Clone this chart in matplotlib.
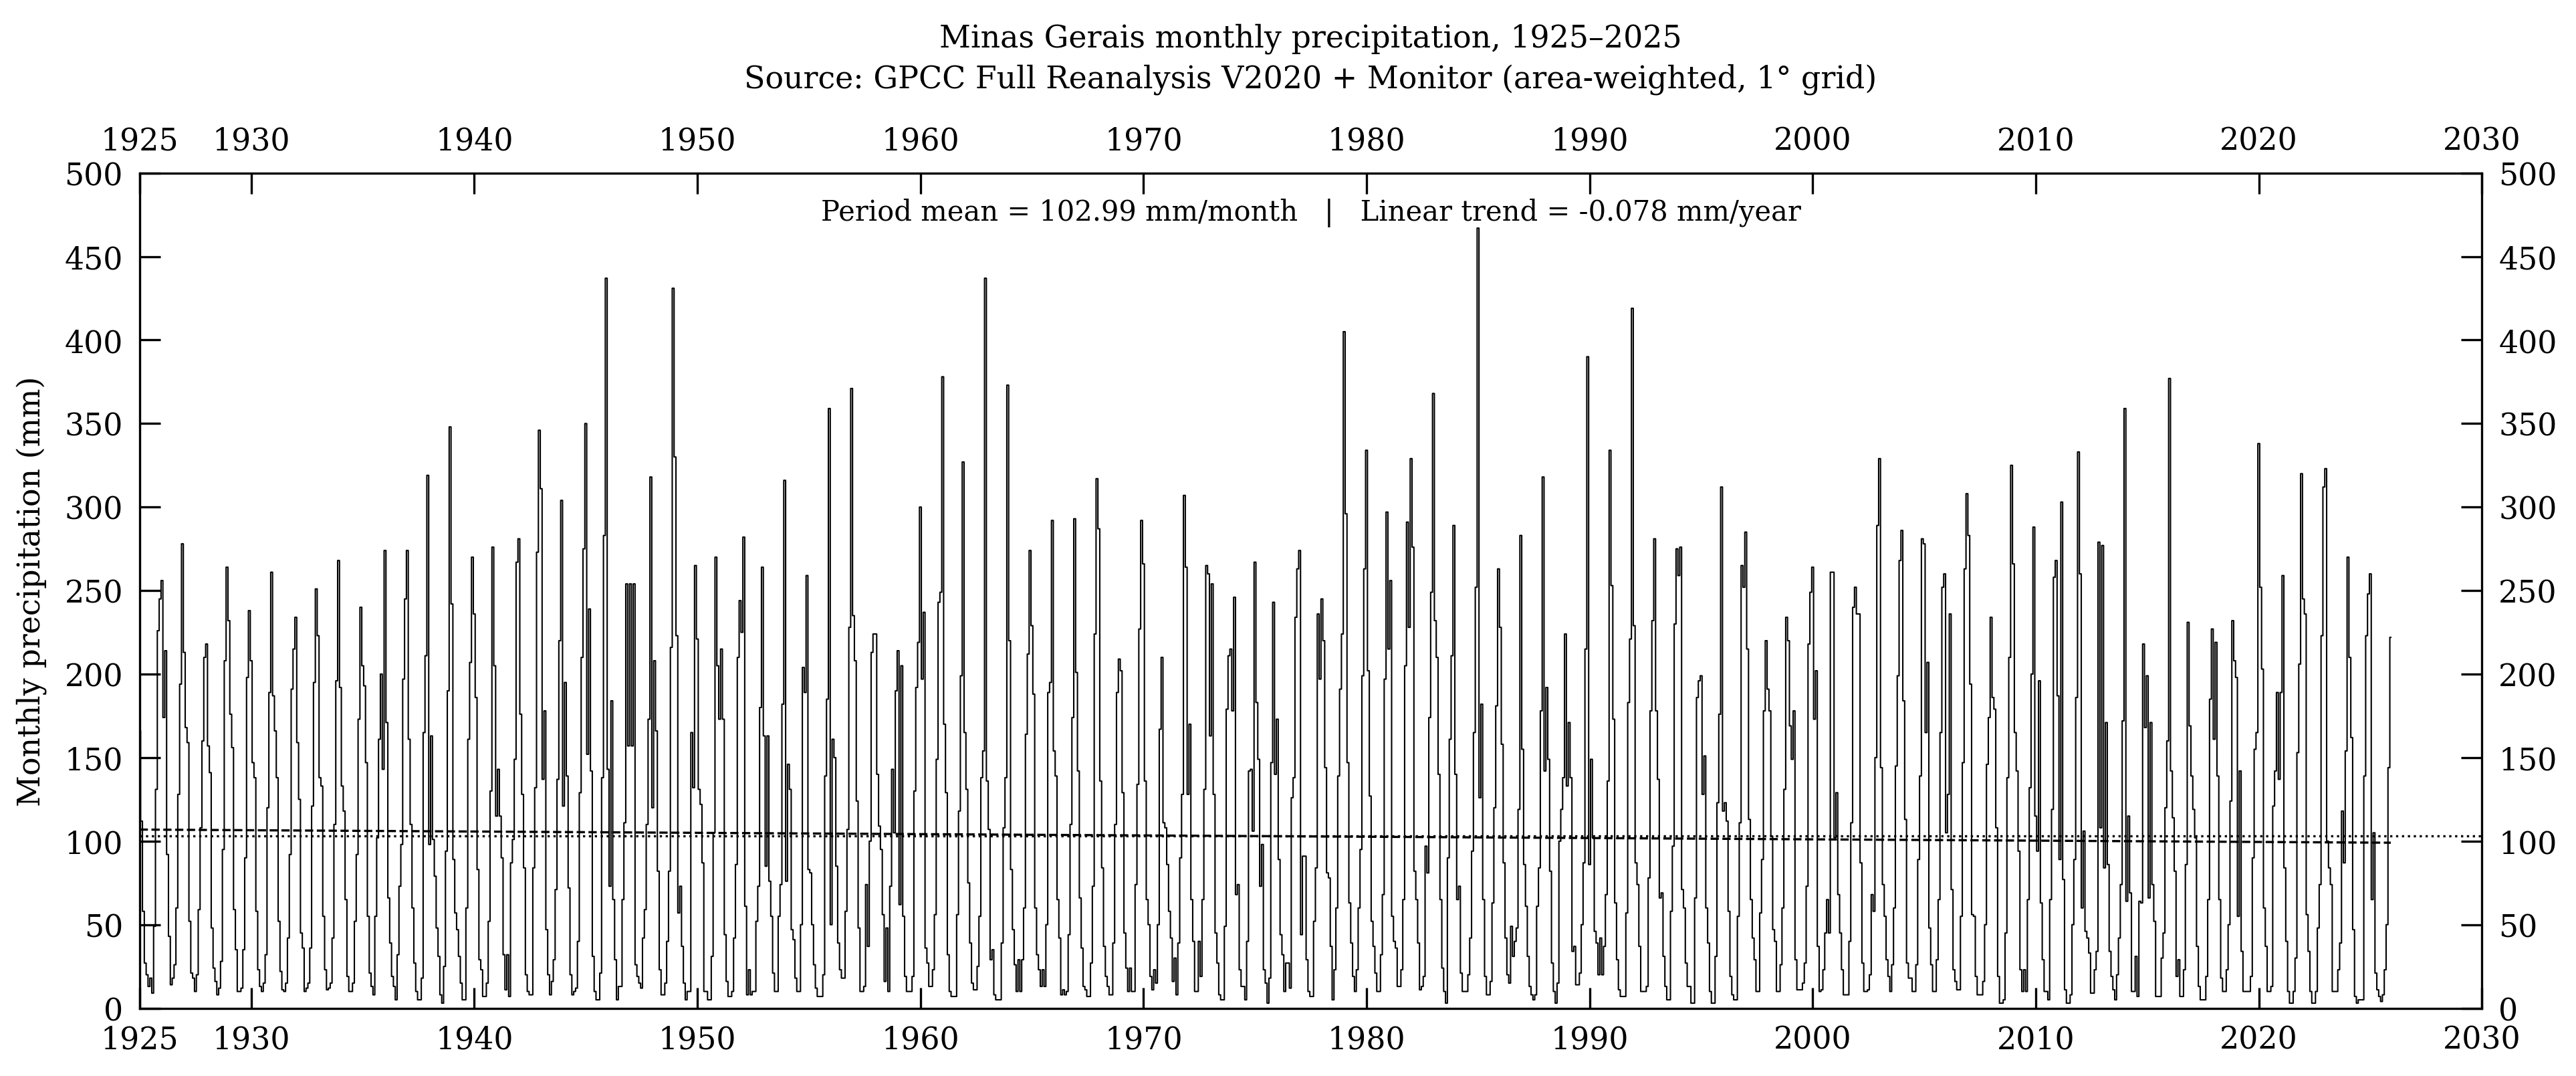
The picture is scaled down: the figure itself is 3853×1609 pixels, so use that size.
import numpy as np
import matplotlib
matplotlib.use("Agg")
import matplotlib.pyplot as plt

# ---------------- data (mm/month, Jan..Dec per row) ----------------
start_year = 1925

precip_1920s = [
    166, 112, 58, 27, 20, 13, 18, 9, 49, 131, 226, 245,     # 1925
    256, 174, 214, 92, 43, 14, 18, 26, 60, 128, 194, 278,   # 1926
    213, 168, 159, 52, 21, 18, 10, 20, 59, 108, 160, 210,   # 1927
    218, 157, 141, 48, 24, 16, 8, 12, 28, 95, 208, 264,     # 1928
    232, 176, 156, 59, 35, 10, 10, 12, 35, 90, 198, 238,    # 1929
]
precip_1930s = [
    208, 147, 138, 58, 23, 13, 10, 15, 32, 120, 189, 261,   # 1930
    187, 166, 138, 52, 22, 11, 10, 15, 42, 92, 191, 215,    # 1931
    234, 159, 125, 45, 36, 10, 12, 15, 36, 121, 195, 251,   # 1932
    223, 138, 133, 55, 23, 11, 12, 15, 42, 110, 196, 268,   # 1933
    192, 133, 118, 65, 19, 10, 10, 15, 52, 92, 173, 240,    # 1934
    205, 193, 147, 55, 21, 13, 8, 55, 102, 161, 200, 143,   # 1935
    274, 171, 66, 39, 19, 13, 5, 32, 73, 98, 197, 245,      # 1936
    274, 161, 110, 60, 27, 10, 5, 5, 18, 165, 211, 319,     # 1937
    98, 163, 101, 79, 48, 31, 8, 3, 25, 94, 190, 348,       # 1938
    242, 89, 57, 47, 31, 15, 5, 5, 60, 161, 207, 270,       # 1939
]
precip_1940s = [
    236, 186, 83, 29, 23, 7, 7, 15, 52, 130, 276, 205,      # 1940
    115, 143, 115, 90, 32, 11, 32, 7, 87, 101, 149, 267,    # 1941
    281, 176, 128, 84, 20, 10, 8, 8, 84, 132, 273, 346,     # 1942
    311, 137, 178, 47, 20, 8, 16, 29, 71, 137, 220, 304,    # 1943
    121, 195, 139, 72, 20, 8, 10, 12, 40, 129, 210, 275,    # 1944
    350, 152, 239, 142, 31, 10, 5, 5, 21, 138, 283, 437,    # 1945
    143, 73, 184, 65, 29, 5, 13, 13, 65, 111, 254, 157,     # 1946
    254, 157, 254, 26, 19, 15, 12, 42, 59, 110, 173, 318,   # 1947
    120, 208, 166, 82, 23, 8, 8, 15, 40, 82, 216, 431,      # 1948
    330, 223, 57, 73, 37, 15, 5, 10, 10, 165, 132, 265,     # 1949
]
precip_1950s = [
    221, 131, 122, 87, 10, 10, 5, 5, 31, 105, 270, 205,     # 1950
    173, 215, 173, 44, 16, 7, 7, 10, 42, 86, 210, 244,      # 1951
    225, 282, 61, 8, 23, 8, 10, 10, 52, 73, 180, 264,       # 1952
    163, 85, 163, 76, 55, 21, 10, 10, 55, 74, 182, 316,     # 1953
    76, 146, 131, 47, 41, 18, 10, 10, 50, 204, 189, 259,    # 1954
    83, 81, 50, 26, 12, 7, 7, 7, 20, 139, 185, 359,         # 1955
    50, 161, 150, 85, 39, 23, 18, 18, 58, 107, 228, 371,    # 1956
    235, 208, 124, 48, 10, 10, 13, 74, 37, 100, 213, 224,   # 1957
    224, 140, 109, 95, 56, 16, 48, 10, 73, 143, 105, 190,   # 1958
    214, 62, 205, 55, 19, 10, 10, 10, 19, 130, 192, 219,    # 1959
]
precip_1960s = [
    300, 197, 237, 36, 27, 13, 13, 23, 56, 149, 243, 249,   # 1960
    378, 170, 129, 32, 10, 7, 7, 7, 56, 118, 199, 327,      # 1961
    165, 131, 75, 39, 15, 11, 11, 25, 55, 138, 154, 437,    # 1962
    136, 107, 29, 35, 8, 5, 5, 5, 39, 108, 138, 373,        # 1963
    220, 83, 47, 26, 10, 29, 10, 29, 60, 164, 212, 274,     # 1964
    229, 188, 60, 32, 23, 13, 23, 13, 50, 189, 195, 292,    # 1965
    154, 139, 65, 42, 8, 11, 8, 10, 44, 110, 174, 293,      # 1966
    201, 142, 66, 36, 13, 11, 7, 7, 27, 73, 224, 317,       # 1967
    287, 136, 84, 37, 19, 13, 8, 8, 39, 110, 189, 209,      # 1968
    202, 129, 45, 24, 10, 24, 10, 10, 74, 134, 227, 292,    # 1969
]
precip_1970s = [
    266, 136, 65, 50, 19, 11, 23, 15, 50, 167, 210, 111,    # 1970
    108, 86, 58, 42, 16, 30, 8, 39, 90, 128, 307, 264,      # 1971
    128, 170, 65, 40, 10, 10, 40, 19, 65, 131, 265, 260,    # 1972
    163, 254, 128, 45, 27, 8, 5, 5, 49, 179, 211, 215,      # 1973
    178, 246, 68, 74, 23, 13, 13, 5, 40, 142, 143, 106,     # 1974
    267, 183, 149, 73, 98, 23, 15, 3, 18, 147, 243, 140,    # 1975
    173, 89, 44, 32, 10, 27, 27, 12, 126, 138, 234, 263,    # 1976
    274, 44, 91, 91, 29, 10, 7, 7, 52, 84, 236, 197,        # 1977
    245, 220, 144, 81, 78, 37, 5, 23, 60, 139, 191, 224,    # 1978
    405, 296, 147, 63, 39, 19, 10, 23, 60, 95, 199, 263,    # 1979
]
precip_1980s = [
    334, 202, 127, 52, 37, 21, 10, 10, 32, 68, 197, 297,    # 1980
    215, 256, 55, 40, 36, 13, 13, 23, 65, 205, 291, 228,    # 1981
    329, 276, 82, 65, 39, 11, 13, 19, 97, 81, 174, 249,     # 1982
    368, 232, 210, 140, 65, 24, 10, 3, 90, 161, 211, 289,   # 1983
    140, 65, 73, 21, 10, 10, 10, 20, 42, 94, 165, 252,      # 1984
    467, 126, 182, 65, 19, 8, 8, 16, 63, 120, 181, 263,     # 1985
    228, 158, 87, 42, 20, 15, 49, 31, 40, 48, 119, 283,     # 1986
    155, 86, 61, 31, 13, 8, 5, 8, 61, 84, 178, 318,         # 1987
    142, 192, 149, 82, 27, 10, 3, 15, 100, 119, 138, 224,   # 1988
    133, 171, 138, 34, 37, 14, 14, 21, 50, 87, 215, 390,    # 1989
]
precip_1990s = [
    86, 149, 102, 46, 39, 20, 42, 20, 37, 68, 136, 334,     # 1990
    253, 173, 63, 29, 11, 7, 7, 7, 57, 183, 221, 419,       # 1991
    229, 87, 74, 37, 10, 10, 10, 13, 78, 178, 232, 281,     # 1992
    178, 137, 66, 69, 31, 13, 5, 5, 58, 97, 230, 275,       # 1993
    259, 276, 71, 60, 27, 13, 13, 3, 3, 66, 186, 196,       # 1994
    199, 128, 151, 60, 39, 10, 3, 3, 31, 123, 176, 312,     # 1995
    118, 123, 112, 58, 19, 8, 5, 5, 55, 111, 265, 252,      # 1996
    285, 215, 113, 65, 42, 29, 10, 10, 57, 89, 178, 220,    # 1997
    191, 178, 103, 47, 40, 10, 10, 26, 60, 131, 234, 220,   # 1998
    169, 149, 178, 29, 11, 11, 11, 15, 27, 73, 218, 249,    # 1999
]
precip_2000s = [
    264, 173, 202, 37, 10, 11, 23, 45, 65, 45, 261, 261,    # 2000
    102, 129, 68, 45, 23, 8, 8, 8, 40, 111, 240, 252,       # 2001
    236, 236, 87, 27, 10, 10, 11, 20, 68, 58, 150, 289,     # 2002
    329, 144, 74, 55, 29, 19, 10, 26, 60, 145, 199, 268,    # 2003
    286, 184, 113, 27, 18, 18, 10, 10, 26, 89, 139, 281,    # 2004
    278, 165, 207, 48, 26, 10, 10, 29, 65, 165, 252, 260,   # 2005
    105, 128, 236, 71, 23, 16, 11, 11, 55, 147, 263, 308,   # 2006
    283, 194, 56, 55, 19, 8, 8, 8, 16, 50, 146, 174,        # 2007
    234, 186, 179, 108, 19, 3, 3, 5, 45, 138, 210, 325,     # 2008
    266, 165, 142, 94, 23, 10, 23, 10, 65, 132, 200, 288,   # 2009
]
precip_2010s = [
    115, 94, 196, 63, 29, 10, 10, 5, 65, 119, 258, 268,     # 2010
    187, 89, 303, 77, 11, 3, 3, 8, 50, 89, 186, 333,        # 2011
    260, 60, 106, 46, 42, 33, 9, 9, 23, 34, 279, 108,       # 2012
    277, 84, 171, 86, 34, 19, 11, 5, 20, 42, 74, 172,       # 2013
    359, 64, 115, 69, 10, 10, 31, 7, 64, 63, 218, 168,      # 2014
    199, 66, 171, 74, 52, 7, 7, 7, 30, 45, 120, 160,        # 2015
    377, 142, 114, 82, 19, 29, 7, 7, 23, 86, 231, 169,      # 2016
    139, 119, 102, 37, 13, 5, 5, 5, 19, 65, 185, 227,       # 2017
    161, 219, 139, 65, 18, 10, 10, 23, 50, 124, 232, 208,   # 2018
    198, 55, 142, 34, 10, 10, 10, 10, 19, 90, 155, 165,     # 2019
]
precip_2020s = [
    338, 252, 203, 60, 37, 10, 10, 13, 121, 142, 189, 137,  # 2020
    189, 259, 84, 40, 10, 3, 3, 10, 30, 153, 206, 320,      # 2021
    245, 236, 56, 34, 10, 3, 3, 10, 48, 74, 223, 312,       # 2022
    323, 100, 84, 74, 10, 10, 10, 23, 39, 118, 87, 154,     # 2023
    270, 210, 162, 47, 7, 3, 5, 5, 5, 139, 223, 248,        # 2024
    260, 65, 105, 21, 11, 7, 4, 8, 23, 50, 144, 222,        # 2025
]

period_mean = 102.99          # mm/month (as printed on the chart)
trend_per_year = -0.078       # mm/year (as printed on the chart)

x_ticks = [1925, 1930, 1940, 1950, 1960, 1970, 1980, 1990, 2000, 2010, 2020, 2030]
y_ticks = [0, 50, 100, 150, 200, 250, 300, 350, 400, 450, 500]

title_text = ("Minas Gerais monthly precipitation, 1925\u20132025\n"
              "Source: GPCC Full Reanalysis V2020 + Monitor (area-weighted, 1\u00b0 grid)")
ylabel_text = "Monthly precipitation (mm)"
stats_text = (f"Period mean = {period_mean:.2f} mm/month   |   "
              f"Linear trend = {trend_per_year:.3f} mm/year")

# ---------------- build series ----------------
values = np.array(precip_1920s + precip_1930s + precip_1940s + precip_1950s +
                  precip_1960s + precip_1970s + precip_1980s + precip_1990s +
                  precip_2000s + precip_2010s + precip_2020s, dtype=float)
t = start_year + np.arange(values.size) / 12.0
t_mid = t.mean()
trend_x = np.array([t[0], t[-1]])
trend_y = period_mean + trend_per_year * (trend_x - t_mid)

# ---------------- plot ----------------
plt.rcParams['font.family'] = ['DejaVu Serif']
DPI = 300
fig = plt.figure(figsize=(3854 / DPI, 1610 / DPI), dpi=DPI)
ax = fig.add_axes([0.0542, 0.0630, 0.9090, 0.7757])

ax.plot(t, values, drawstyle='steps-mid', color='black', lw=0.5)
ax.axhline(period_mean, ls=':', color='black', lw=0.8)
ax.plot(trend_x, trend_y, ls='--', color='black', lw=0.8)

ax.set_xlim(1925, 2030)
ax.set_ylim(0, 500)
ax.set_xticks(x_ticks)
ax.set_yticks(y_ticks)
ax.tick_params(direction='in', length=7.5, width=0.8, top=True, right=True,
               labeltop=True, labelright=True, labelsize=11, pad=6)
for sp in ax.spines.values():
    sp.set_linewidth(0.8)

ax.set_ylabel(ylabel_text, fontsize=11, labelpad=6)
ax.set_title(title_text, fontsize=11, pad=14, linespacing=1.4)
ax.text(0.5, 0.953, stats_text, transform=ax.transAxes, ha='center',
        va='center', fontsize=10)

fig.savefig("out.png", dpi=DPI)
